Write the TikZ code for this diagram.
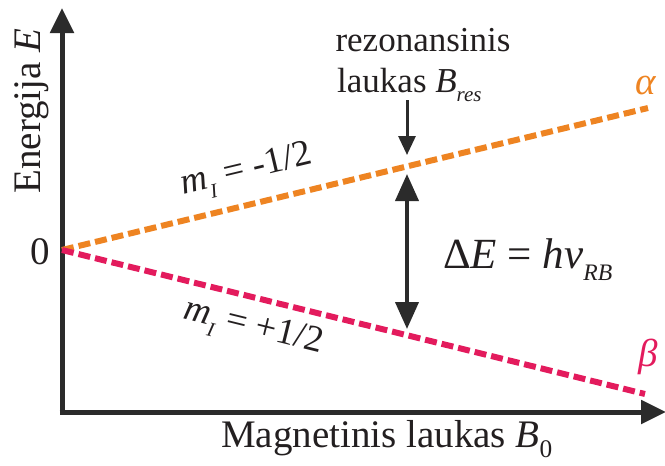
\documentclass[tikz,border=0pt]{standalone}
\usepackage{fontspec}
\usepackage{graphicx}
\setmainfont{Liberation Serif}
\usetikzlibrary{arrows.meta}
\definecolor{ink}{HTML}{231F20}
\definecolor{axisc}{HTML}{2B2B2B}
\definecolor{orng}{HTML}{EE8422}
\definecolor{mgnt}{HTML}{E31B5D}
\newcommand\lowsub[2][0.6]{\raisebox{-0.28em}{\scalebox{#1}{#2}}}
\tikzset{
  axisline/.style={draw=axisc, line width=5pt, -{Triangle[length=25pt,width=23pt]}},
  levelline/.style={line width=6pt, dash pattern=on 12pt off 5pt},
  bigtxt/.style={text=ink, font=\fontsize{39}{41}\selectfont, inner sep=0pt},
  midtxt/.style={text=ink, font=\fontsize{35}{40}\selectfont, inner sep=0pt},
  mtxt/.style={text=ink, font=\fontsize{37}{40}\selectfont, inner sep=0pt},
  gaparrow/.style={draw=axisc, line width=4pt, {Triangle[length=27pt,width=23pt]}-{Triangle[length=27pt,width=23pt]}},
  pointarrow/.style={draw=axisc, line width=3pt, -{Triangle[length=19pt,width=17pt]}}
}
\begin{document}
\begin{tikzpicture}[x=1pt,y=-1pt]
\useasboundingbox (0,0) rectangle (665,466);
% axes
\coordinate (orig) at (62,412);
\coordinate (ytip) at (62,8);
\coordinate (xtip) at (666,412);
\draw[axisline] ([yshift=-2.5pt]orig) -- (ytip);
\draw[axisline] ([xshift=-2.5pt]orig) -- (xtip);
% levels
\coordinate (zero) at (62,250);
\coordinate (aend) at (648,108);
\coordinate (bend) at (645,394);
\draw[levelline, orng] (zero) -- (aend);
\draw[levelline, mgnt] (zero) -- (bend);
% arrows
\coordinate (dtop) at (407,100);
\coordinate (dbot) at (407,155);
\draw[pointarrow] (dtop) -- (dbot);
\coordinate (gtop) at (407,174);
\coordinate (gbot) at (407,329);
\draw[gaparrow] (gtop) -- (gbot);
% labels
\node[bigtxt, rotate=90] (ylab) at (32,111) {Energija \textit{E}};
\node[bigtxt] (zlab) at (40,252) {0};
\node[bigtxt, anchor=base west] (xlab) at (221,447) {Magnetinis laukas \textit{B}\lowsub[0.65]{0}};
\node[midtxt] (res1) at (423,40) {rezonansinis};
\node[midtxt, anchor=base west] (res2) at (337,92) {laukas \textit{B}\lowsub{\textit{res}}};
\node[text=ink, font=\fontsize{43}{45}\selectfont, inner sep=0pt, anchor=base west] (dE) at (443,268) {Δ\textit{E} = \textit{hν}\lowsub[0.55]{\textit{RB}}};
\node[bigtxt, text=orng] (alab) at (646,86) {\textit{α}};
\node[bigtxt, text=mgnt] (blab) at (648,357) {\textit{β}};
\node[mtxt, rotate=13.4] (mu) at (247,172) {\textit{m}\lowsub[0.55]{\textit{I}} = -1/2};
\node[mtxt, rotate=-13.8] (md) at (253,329) {\textit{m}\lowsub[0.55]{\textit{I}} = +1/2};
\end{tikzpicture}
\end{document}
